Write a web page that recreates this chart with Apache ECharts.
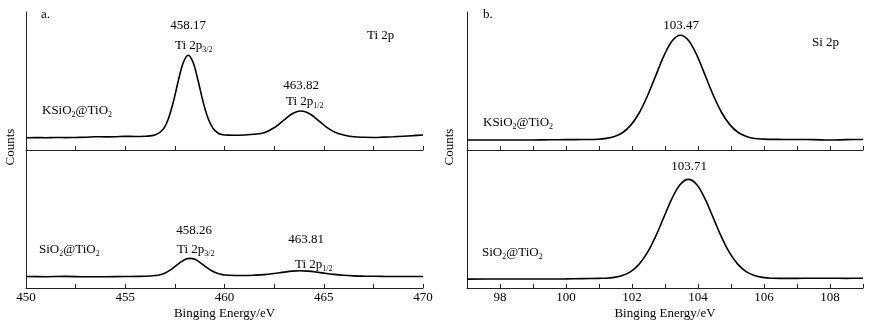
<!DOCTYPE html>
<html><head><meta charset="utf-8">
<script src="https://cdn.jsdelivr.net/npm/echarts@6/dist/echarts.min.js"></script>
<style>html,body{margin:0;padding:0;background:#fff}#c{width:873px;height:329px}</style>
</head><body><div id="c"></div>
<script>
// ---- Data ----
// Panel a, Ti 2p, KSiO2@TiO2 (upper)
const energyA1 = [450, 450.5, 451, 451.5, 452, 452.5, 453, 453.5, 454, 454.5, 455, 455.5, 456, 456.5, 456.92, 457.17, 457.42, 457.67, 457.92, 458.17, 458.42, 458.67, 458.92, 459.17, 459.42, 459.67, 459.92, 460.17, 460.5, 461, 461.5, 462, 462.5, 462.85, 463.1, 463.35, 463.6, 463.85, 464.1, 464.35, 464.6, 464.85, 465.1, 465.5, 466, 466.5, 467, 467.5, 468, 468.5, 469, 469.5, 470];
const countsA1 = [8.9, 9.0, 8.9, 9.1, 9.0, 9.1, 9.2, 9.6, 9.5, 9.6, 9.9, 9.8, 10.0, 10.8, 15.3, 22.6, 34.7, 50.0, 63.2, 68.7, 63.4, 50.2, 35.0, 23.0, 15.8, 12.3, 11.0, 10.8, 10.7, 10.9, 11.4, 12.5, 16.1, 20.0, 23.0, 25.7, 27.6, 28.3, 27.6, 25.7, 23.0, 20.0, 16.9, 13.3, 10.8, 9.6, 9.2, 9.1, 9.3, 9.6, 10.0, 10.4, 10.9];
// Panel a, Ti 2p, SiO2@TiO2 (lower)
const energyA2 = [450, 451, 452, 453, 454, 455, 455.75, 456.26, 456.51, 456.76, 457.01, 457.26, 457.51, 457.76, 458.01, 458.26, 458.51, 458.76, 459.01, 459.26, 459.51, 459.76, 460.01, 460.5, 461, 461.5, 462, 462.5, 463, 463.4, 463.81, 464.2, 464.6, 465, 465.5, 466, 466.5, 467, 468, 469, 470];
const countsA2 = [8.3, 8.2, 8.4, 8.1, 8.2, 8.3, 8.4, 8.7, 9.0, 9.6, 10.9, 12.9, 15.6, 18.4, 20.7, 21.5, 20.8, 18.6, 15.9, 13.3, 11.4, 10.1, 9.4, 9.1, 9.1, 9.3, 9.7, 10.5, 11.5, 12.2, 12.5, 12.2, 11.6, 10.8, 9.9, 9.2, 8.8, 8.6, 8.4, 8.3, 8.3];
// Panel b, Si 2p, KSiO2@TiO2 (upper)
const energyB1 = [97, 98, 99, 99.5, 100, 100.5, 100.97, 101.22, 101.47, 101.72, 101.97, 102.22, 102.47, 102.72, 102.97, 103.22, 103.47, 103.72, 103.97, 104.22, 104.47, 104.72, 104.97, 105.22, 105.47, 105.72, 105.97, 106.5, 107, 107.5, 108, 108.5, 109];
const countsB1 = [7.2, 7.2, 7.3, 7.4, 7.5, 7.6, 7.8, 8.4, 9.8, 12.7, 18.2, 27.0, 39.3, 53.9, 68.4, 79.2, 83.2, 79.2, 68.4, 53.9, 39.3, 27.0, 18.2, 12.7, 9.8, 8.3, 7.9, 7.7, 7.6, 7.5, 7.2, 7.5, 7.6];
// Panel b, Si 2p, SiO2@TiO2 (lower)
const energyB2 = [97, 98, 99, 100, 100.5, 101, 101.21, 101.46, 101.71, 101.96, 102.21, 102.46, 102.71, 102.96, 103.21, 103.46, 103.71, 103.96, 104.21, 104.46, 104.71, 104.96, 105.21, 105.46, 105.71, 105.96, 106.21, 106.5, 107, 107.5, 108, 108.5, 109];
const countsB2 = [6.4, 6.5, 6.5, 6.6, 6.8, 7.0, 7.1, 7.7, 9.1, 11.9, 17.1, 25.4, 37.1, 51.0, 64.8, 75.0, 78.7, 75.0, 64.8, 51.0, 37.1, 25.4, 17.1, 11.9, 9.1, 7.7, 7.1, 7.0, 7.0, 7.1, 7.1, 7.0, 7.1];
// Tick labels
const tickLabelsA = [450, 455, 460, 465, 470];
const tickLabelsB = [98, 100, 102, 104, 106, 108];
// Peak annotation texts
const peaksA1 = ['458.17', '463.82'];
const peaksA2 = ['458.26', '463.81'];
const peakB1 = '103.47';
const peakB2 = '103.71';

// ---- Chart ----
const F = '"Liberation Serif", "Times New Roman", serif';
const AX = '#222';
const zip = (xs, ys) => xs.map((x, i) => [x, ys[i]]);

const grids = [
  { left: 26, top: 12, width: 397, height: 138 },
  { left: 26, top: 150, width: 397, height: 138 },
  { left: 467, top: 12, width: 396, height: 138 },
  { left: 467, top: 150, width: 396, height: 138 }
];

function xAx(idx, min, max, interval, labels, showLabels) {
  return {
    type: 'value', gridIndex: idx, min, max, interval, position: 'bottom',
    axisLine: { show: true, lineStyle: { color: AX, width: 1 } },
    axisTick: { show: true, inside: true, length: 4, lineStyle: { color: AX } },
    splitLine: { show: false },
    axisLabel: {
      show: showLabels, margin: 3, color: '#000', fontFamily: F, fontSize: 13,
      formatter: v => labels.some(t => Math.abs(t - v) < 1e-6) ? String(v) : ''
    },
    name: showLabels ? 'Binging Energy/eV' : '',
    nameLocation: 'middle', nameGap: 19,
    nameTextStyle: { color: '#000', fontFamily: F, fontSize: 13 }
  };
}
function yAx(idx) {
  return {
    type: 'value', gridIndex: idx, min: 0, max: 100,
    axisLine: { show: true, lineStyle: { color: AX, width: 1 } },
    axisTick: { show: false }, axisLabel: { show: false }, splitLine: { show: false }
  };
}
function ser(idx, data) {
  return {
    type: 'line', xAxisIndex: idx, yAxisIndex: idx, data, showSymbol: false, symbol: 'none',
    smooth: 0.35, lineStyle: { color: '#000', width: 1.6 }, silent: true, animation: false
  };
}

const rich = {
  n: { fontSize: 13, fontFamily: F, fill: '#000', color: '#000' },
  s: { fontSize: 8, fontFamily: F, fill: '#000', color: '#000', verticalAlign: 'bottom', padding: [8, 0, 0, 0] }
};
function txt(x, y, text, align) {
  return { type: 'text', x, y, silent: true,
    style: { text, fill: '#000', font: '13px ' + F, textAlign: align || 'left', textVerticalAlign: 'middle', align: align || 'left', verticalAlign: 'middle' } };
}
function rtxt(x, y, text) {
  return { type: 'text', x, y, silent: true,
    style: { text, rich, fill: '#000', font: '13px ' + F, textAlign: 'left', textVerticalAlign: 'middle', align: 'left', verticalAlign: 'middle' } };
}
const countsLabel = (x) => ({ type: 'text', x, y: 147, rotation: Math.PI / 2, silent: true,
  style: { text: 'Counts', fill: '#000', font: '13px ' + F, textAlign: 'center', textVerticalAlign: 'middle', align: 'center', verticalAlign: 'middle' } });

const chart = echarts.init(document.getElementById('c'), null, { renderer: 'canvas' });
chart.setOption({
  animation: false,
  backgroundColor: '#fff',
  grid: grids,
  xAxis: [
    xAx(0, 450, 470, 2.5, tickLabelsA, false),
    xAx(1, 450, 470, 2.5, tickLabelsA, true),
    xAx(2, 97, 109, 1, tickLabelsB, false),
    xAx(3, 97, 109, 1, tickLabelsB, true)
  ],
  yAxis: [yAx(0), yAx(1), yAx(2), yAx(3)],
  series: [
    ser(0, zip(energyA1, countsA1)),
    ser(1, zip(energyA2, countsA2)),
    ser(2, zip(energyB1, countsB1)),
    ser(3, zip(energyB2, countsB2))
  ],
  graphic: [
    countsLabel(11), countsLabel(450),
    txt(41, 15, 'a.'),
    txt(188, 26, peaksA1[0], 'center'),
    rtxt(175, 46, '{n|Ti 2p}{s|3/2}'),
    txt(367, 36, 'Ti 2p'),
    txt(301, 86, peaksA1[1], 'center'),
    rtxt(286, 102, '{n|Ti 2p}{s|1/2}'),
    rtxt(42, 111, '{n|KSiO}{s|2}{n|@TiO}{s|2}'),
    txt(194, 231, peaksA2[0], 'center'),
    rtxt(177, 250, '{n|Ti 2p}{s|3/2}'),
    txt(306, 240, peaksA2[1], 'center'),
    rtxt(295, 265, '{n|Ti 2p}{s|1/2}'),
    rtxt(39, 250, '{n|SiO}{s|2}{n|@TiO}{s|2}'),
    txt(483, 15, 'b.'),
    txt(681, 26, peakB1, 'center'),
    txt(812, 43, 'Si 2p'),
    rtxt(483, 123, '{n|KSiO}{s|2}{n|@TiO}{s|2}'),
    txt(689, 167, peakB2, 'center'),
    rtxt(482, 253, '{n|SiO}{s|2}{n|@TiO}{s|2}')
  ]
});
</script></body></html>
